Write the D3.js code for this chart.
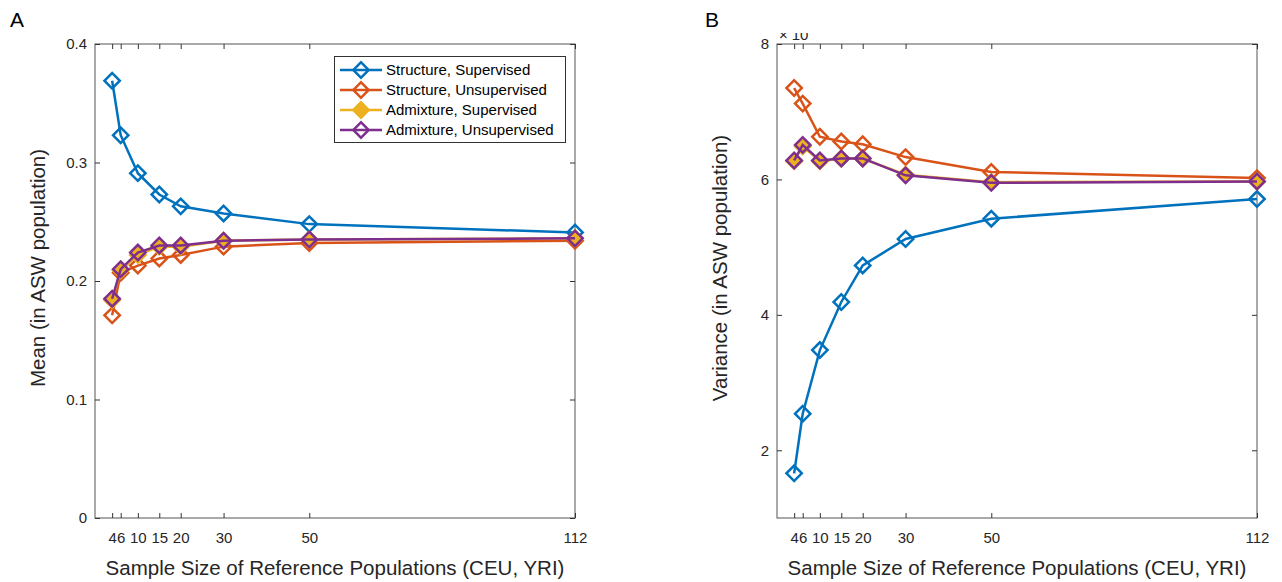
<!DOCTYPE html>
<html lang="en">
<head>
<meta charset="UTF-8">
<script src="https://d3js.org/d3.v7.min.js"></script>
<title>Structure vs Admixture</title>
<style>
  body { margin: 0; background: #fff; }
  svg { font-family: "Liberation Sans", Arial, sans-serif; }
</style>
</head>
<body>
<script>
// sample sizes on the x axis
var sampleSizes = [4, 6, 10, 15, 20, 30, 50, 112];
var xTickLabels = ["4", "6", "10", "15", "20", "30", "50", "112"];

var seriesNames = ["Structure, Supervised", "Structure, Unsupervised",
                   "Admixture, Supervised", "Admixture, Unsupervised"];

// panel A: mean
var meanStructSup   = [0.369, 0.323, 0.291, 0.273, 0.263, 0.257, 0.248, 0.241];
var meanStructUnsup = [0.171, 0.207, 0.213, 0.219, 0.222, 0.229, 0.232, 0.234];
var meanAdmixSup    = [0.184, 0.209, 0.222, 0.229, 0.229, 0.234, 0.235, 0.236];
var meanAdmixUnsup  = [0.185, 0.210, 0.224, 0.230, 0.230, 0.234, 0.235, 0.236];
var meanTicks = [0, 0.1, 0.2, 0.3, 0.4];

// panel B: variance (x 10^-3)
var varStructSup   = [1.66, 2.54, 3.48, 4.19, 4.73, 5.12, 5.42, 5.71];
var varStructUnsup = [7.35, 7.12, 6.63, 6.56, 6.52, 6.33, 6.11, 6.02];
var varAdmixSup    = [6.27, 6.49, 6.27, 6.31, 6.31, 6.07, 5.96, 5.97];
var varAdmixUnsup  = [6.28, 6.51, 6.28, 6.31, 6.31, 6.06, 5.95, 5.97];
var varTicks = [2, 4, 6, 8];

var colors = ["#0072BD", "#D95319", "#EDB120", "#7E2F8E"];
var filled = [false, false, true, false];

var W = 1282, H = 582;
var svg = d3.select("body").append("svg")
    .attr("width", W).attr("height", H);

var diamond = d3.symbol().type(d3.symbolSquare).size(118);
var lw = 2.5;

function panel(opt) {
    var g = svg.append("g");
    var x = d3.scaleLinear().domain([0, 112]).range([opt.left, opt.left + 480]);
    var y = d3.scaleLinear().domain(opt.yDomain).range([518, 44]);

    // box
    g.append("rect")
        .attr("x", x.range()[0]).attr("y", 44)
        .attr("width", 480).attr("height", 474)
        .attr("fill", "none").attr("stroke", "#555").attr("stroke-width", 1);

    // axes: inward ticks, mirrored top/right
    var tl = 5;
    g.append("g").attr("transform", "translate(0,518)")
        .call(d3.axisBottom(x).tickValues(sampleSizes).tickFormat((d, i) => xTickLabels[i])
              .tickSizeInner(-tl).tickSizeOuter(0).tickPadding(14));
    g.append("g").attr("transform", "translate(0,44)")
        .call(d3.axisTop(x).tickValues(sampleSizes).tickFormat("")
              .tickSizeInner(-tl).tickSizeOuter(0));
    g.append("g").attr("transform", "translate(" + x.range()[0] + ",0)")
        .call(d3.axisLeft(y).tickValues(opt.yTicks).tickFormat(opt.yFormat)
              .tickSizeInner(-tl).tickSizeOuter(0).tickPadding(8));
    g.append("g").attr("transform", "translate(" + x.range()[1] + ",0)")
        .call(d3.axisRight(y).tickValues(opt.yTicks).tickFormat("")
              .tickSizeInner(-tl).tickSizeOuter(0));
    g.selectAll(".domain").remove();
    g.selectAll(".tick line").attr("stroke", "#333");
    g.selectAll(".tick text").attr("fill", "#262626")
        .style("font-size", "15px").style("font-family", "Liberation Sans, Arial, sans-serif");

    // axis labels
    g.append("text")
        .attr("x", (x.range()[0] + x.range()[1]) / 2).attr("y", 575)
        .attr("text-anchor", "middle").attr("fill", "#262626")
        .style("font-size", "20.5px")
        .text("Sample Size of Reference Populations (CEU, YRI)");
    g.append("text")
        .attr("transform", "translate(" + (x.range()[0] - 50) + ",268) rotate(-90)")
        .attr("text-anchor", "middle").attr("fill", "#262626")
        .style("font-size", "20.5px")
        .text(opt.yLabel);

    // panel letter
    g.append("text")
        .attr("x", opt.letterX).attr("y", 27)
        .attr("fill", "#000").style("font-size", "21px")
        .text(opt.letter);

    // series
    var line = d3.line().x((d, i) => x(sampleSizes[i])).y(d => y(d));
    opt.series.forEach(function (vals, k) {
        var s = g.append("g");
        s.append("path").datum(vals)
            .attr("d", line).attr("fill", "none")
            .attr("stroke", colors[k]).attr("stroke-width", lw);
        s.selectAll("path.mk").data(vals).join("path")
            .attr("class", "mk")
            .attr("d", diamond)
            .attr("transform", (d, i) => "translate(" + x(sampleSizes[i]) + "," + y(d) + ") rotate(45)")
            .attr("fill", filled[k] ? colors[k] : "none")
            .attr("stroke", colors[k]).attr("stroke-width", lw);
    });
    return {x: x, y: y, g: g};
}

var pA = panel({
    left: 95, yDomain: [0, 0.4], yTicks: meanTicks, yFormat: d3.format(".1~f"),
    yLabel: "Mean (in ASW population)", letter: "A", letterX: 10,
    series: [meanStructSup, meanStructUnsup, meanAdmixSup, meanAdmixUnsup]
});

var pB = panel({
    left: 777, yDomain: [1, 8], yTicks: varTicks, yFormat: d3.format("d"),
    yLabel: "Variance (in ASW population)", letter: "B", letterX: 705,
    series: [varStructSup, varStructUnsup, varAdmixSup, varAdmixUnsup]
});

// exponent label, cut at top as in the original figure
svg.append("clipPath").attr("id", "expclip")
    .append("rect").attr("x", 770).attr("y", 33).attr("width", 80).attr("height", 20);
var expText = svg.append("text")
    .attr("clip-path", "url(#expclip)")
    .attr("x", 779).attr("y", 40)
    .attr("fill", "#262626").style("font-size", "15px");
expText.append("tspan").text("×");
expText.append("tspan").attr("dx", 4).text("10");
expText.append("tspan").attr("dy", -7).style("font-size", "11px").text("-3");

// legend
var lg = svg.append("g");
lg.append("rect")
    .attr("x", 334.5).attr("y", 56.5).attr("width", 231).attr("height", 86)
    .attr("fill", "#fff").attr("stroke", "#333").attr("stroke-width", 1);
seriesNames.forEach(function (name, k) {
    var yy = 70 + k * 20;
    lg.append("line")
        .attr("x1", 340).attr("x2", 382).attr("y1", yy).attr("y2", yy)
        .attr("stroke", colors[k]).attr("stroke-width", lw);
    lg.append("path")
        .attr("d", diamond)
        .attr("transform", "translate(361," + yy + ") rotate(45)")
        .attr("fill", filled[k] ? colors[k] : "none")
        .attr("stroke", colors[k]).attr("stroke-width", lw);
    lg.append("text")
        .attr("x", 386).attr("y", yy + 5)
        .attr("fill", "#000").style("font-size", "15px")
        .text(name);
});
</script>
</body>
</html>
